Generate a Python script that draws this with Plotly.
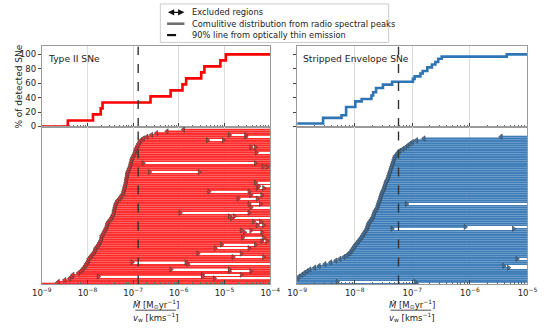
import plotly.graph_objects as go

W, H = 550, 329

# ---------------- data (log10 of Mdot/vw) ----------------
# Top panels: cumulative distribution of radio spectral peaks
ii_cdf_logx = [-8.43, -7.88, -7.71, -7.67, -6.62, -6.18, -5.92, -5.84, -5.51, -5.44, -5.09, -4.97]
ii_cdf_pct = [8.3, 16.7, 25.0, 33.3, 41.7, 50.0, 58.3, 66.7, 75.0, 83.3, 91.7, 100.0]
ii_cdf_start_pct = 0.0

se_cdf_logx = [-8.55, -8.23, -8.15, -7.99, -7.88, -7.71, -7.68, -7.63, -7.51, -7.35,
               -6.99, -6.96, -6.86, -6.82, -6.74, -6.66, -6.60, -6.55, -6.49, -5.36]
se_cdf_pct = [11.9, 15.5, 27.0, 34.7, 38.0, 43.0, 47.5, 53.4, 58.0, 62.0,
              66.0, 69.4, 73.5, 77.0, 82.0, 86.0, 89.5, 94.0, 96.8, 100.0]
se_cdf_start_pct = 4.1

# 90% lines from optically thin emission
ii_p90_logx = -6.89
se_p90_logx = -7.24

# Bottom panels: lower end of the excluded region for each SN (row 0 = bottom)
ii_lower_logx = [
    -9.30, -8.64, -8.50, -8.39, -8.34, -8.32, -8.20, -8.15, -8.11, -8.08,
    -8.05, -8.03, -8.00, -7.98, -7.97, -7.94, -7.91, -7.88, -7.85, -7.83,
    -7.82, -7.79, -7.76, -7.74, -7.72, -7.70, -7.69, -7.69, -7.66, -7.64,
    -7.62, -7.60, -7.58, -7.57, -7.56, -7.54, -7.51, -7.48, -7.46, -7.44,
    -7.42, -7.42, -7.41, -7.40, -7.39, -7.38, -7.36, -7.34, -7.30, -7.27,
    -7.25, -7.22, -7.21, -7.20, -7.19, -7.18, -7.17, -7.16, -7.15, -7.15,
    -7.14, -7.13, -7.13, -7.12, -7.10, -7.09, -7.07, -7.06, -7.05, -7.04,
    -7.03, -7.02, -7.00, -6.98, -6.96, -6.95, -6.94, -6.92, -6.90, -6.88,
    -6.86, -6.83, -6.78, -6.70, -6.60, -6.49, -6.26, -5.90]

se_lower_logx = [
    -9.30, -9.30, -9.10, -9.00, -8.97, -8.92, -8.88, -8.83, -8.78, -8.70,
    -8.62, -8.52, -8.42, -8.33, -8.26, -8.19, -8.14, -8.10, -8.07, -8.05,
    -8.03, -8.01, -7.99, -7.96, -7.94, -7.91, -7.89, -7.87, -7.85, -7.83,
    -7.81, -7.79, -7.78, -7.77, -7.76, -7.74, -7.72, -7.70, -7.68, -7.67,
    -7.66, -7.65, -7.63, -7.61, -7.60, -7.59, -7.58, -7.57, -7.56, -7.55,
    -7.54, -7.53, -7.52, -7.50, -7.49, -7.48, -7.47, -7.46, -7.45, -7.43,
    -7.42, -7.41, -7.40, -7.39, -7.38, -7.37, -7.36, -7.35, -7.34, -7.33,
    -7.32, -7.31, -7.30, -7.27, -7.25, -7.22, -7.17, -7.12, -7.08, -7.04,
    -7.00, -6.93, -6.80, -5.46]

# allowed (white) gaps inside rows: (row, start, end); end None = to the right edge
ii_gaps = [
    (3, -5.22, None), (4, -7.76, -5.48), (5, -5.48, -4.63), (7, -4.89, -4.42),
    (8, -6.17, -4.89), (11, -5.80, None), (12, -7.02, -5.84), (15, -4.81, -4.14),
    (17, -5.58, -4.63), (20, -5.20, -4.46), (22, -5.06, -4.32), (24, -4.18, -4.07),
    (26, -4.60, -4.14), (29, -4.56, -4.18), (30, -4.63, -4.42), (33, -4.28, -4.14),
    (35, -4.36, -4.21), (37, -4.84, None), (38, -4.89, -4.78), (40, -5.97, -4.46),
    (43, -4.42, None), (45, -4.46, -4.21), (48, -4.70, -4.28), (50, -4.42, -4.18),
    (52, -5.34, -4.46), (54, -4.28, -4.14), (55, -4.25, None), (57, -4.32, None),
    (63, -6.64, -5.55), (66, -4.15, -4.07), (68, -6.78, -4.32), (74, -4.30, None),
    (77, -4.42, -4.32), (81, -5.37, -5.02), (83, -4.53, None), (84, -4.89, -4.53)]

se_gaps = [
    (0, -6.93, None), (1, -8.30, -6.95), (9, -5.33, None), (10, -5.41, None),
    (14, -5.18, None), (31, -7.35, -5.24), (32, -6.08, None), (45, -7.10, None)]

ii_xrange = [-9, -4]
se_xrange = [-9, -5]
y_ticks_pct = [0, 20, 40, 60, 80, 100]

# ---------------- styling ----------------
FONT = "DejaVu Sans"
RED = "#ff0000"
RED_BAR = "#ff2a2a"
BLUE = "#2e75b6"
BLUE_BAR = "#3b7bb7"
AX = "#9a9a9a"
GRID = "#dcdcdc"

def px(x):
    return x / W

def py(y):
    return 1 - y / H

LEFT = (33, 270)
RIGHT = (298, 537)
TOP = (47, 128.5)
BOT = (128.5, 288)
TOP_YR = [-0.7, 111]
BOT_YR = [-0.5, 88.5]

fig = go.Figure()


def add_panel(cdf_start, cdf_logx, cdf_pct, p90, lower, gaps, xr, bar_col, line_col,
              stripe_col, xa_top, ya_top, xa_bot, ya_bot):
    xmin, xmax = 10 ** xr[0], 10 ** xr[1]
    # cumulative distribution (step)
    fig.add_trace(go.Scatter(
        x=[xmin] + [10 ** v for v in cdf_logx] + [xmax],
        y=[cdf_start] + cdf_pct + [cdf_pct[-1]],
        mode="lines", line=dict(color=line_col, width=2.6, shape="hv"),
        xaxis=xa_top, yaxis=ya_top, showlegend=False, hoverinfo="skip"))
    fig.add_trace(go.Scatter(
        x=[10 ** p90, 10 ** p90], y=TOP_YR, mode="lines",
        line=dict(color="#333333", width=1.4, dash="dash"),
        xaxis=xa_top, yaxis=ya_top, showlegend=False, hoverinfo="skip"))
    # excluded-region bars
    rows = list(range(len(lower)))
    edge = 10 ** (xr[1] + 0.05)
    fig.add_trace(go.Bar(
        y=rows, base=[10 ** v for v in lower], x=[edge - 10 ** v for v in lower],
        orientation="h", width=1.0,
        marker=dict(color=bar_col, line=dict(color=stripe_col, width=0.3)),
        xaxis=xa_bot, yaxis=ya_bot, showlegend=False, hoverinfo="skip"))
    g_rows = [g[0] for g in gaps]
    g_start = [10 ** g[1] for g in gaps]
    g_end = [edge if g[2] is None else 10 ** g[2] for g in gaps]
    fig.add_trace(go.Bar(
        y=g_rows, base=g_start, x=[e - s for s, e in zip(g_start, g_end)],
        orientation="h", width=0.72, marker=dict(color="white", line=dict(width=0)),
        xaxis=xa_bot, yaxis=ya_bot, showlegend=False, hoverinfo="skip"))
    # arrow markers
    fig.add_trace(go.Scatter(
        x=[10 ** v for v in lower], y=rows, mode="markers",
        marker=dict(symbol="triangle-left", size=4.5, color=bar_col,
                    line=dict(color="#444444", width=0.7)),
        xaxis=xa_bot, yaxis=ya_bot, showlegend=False, hoverinfo="skip"))
    mk_x = g_start + [10 ** g[2] for g in gaps if g[2] is not None]
    mk_y = g_rows + [g[0] for g in gaps if g[2] is not None]
    fig.add_trace(go.Scatter(
        x=mk_x, y=mk_y, mode="markers",
        marker=dict(symbol="triangle-right", size=4.5, color=bar_col,
                    line=dict(color="#444444", width=0.7)),
        xaxis=xa_bot, yaxis=ya_bot, showlegend=False, hoverinfo="skip"))
    fig.add_trace(go.Scatter(
        x=[10 ** p90, 10 ** p90], y=BOT_YR, mode="lines",
        line=dict(color="#333333", width=1.4, dash="dash"),
        xaxis=xa_bot, yaxis=ya_bot, showlegend=False, hoverinfo="skip"))


add_panel(ii_cdf_start_pct, ii_cdf_logx, ii_cdf_pct, ii_p90_logx, ii_lower_logx, ii_gaps,
          ii_xrange, RED_BAR, RED, "rgba(255,150,150,0.35)", "x", "y", "x3", "y3")
add_panel(se_cdf_start_pct, se_cdf_logx, se_cdf_pct, se_p90_logx, se_lower_logx, se_gaps,
          se_xrange, BLUE_BAR, BLUE, "rgba(140,180,215,0.45)", "x2", "y2", "x4", "y4")


def xaxis_cfg(dom, xr, anchor, labels):
    exps = list(range(xr[0], xr[1] + 1))
    minor_vals = [k * 10.0 ** e for e in range(xr[0], xr[1]) for k in range(2, 10)]
    return dict(
        type="log", domain=[px(dom[0]), px(dom[1])], range=xr, anchor=anchor,
        tickvals=[10.0 ** e for e in exps],
        ticktext=["10<sup>\u2212%d</sup>" % (-e) for e in exps],
        showticklabels=labels, ticks="inside", ticklen=4, tickwidth=0.8, tickcolor="#444",
        minor=dict(tickvals=minor_vals, ticks="inside", ticklen=2, tickwidth=0.6,
                   tickcolor="#666", showgrid=False),
        showgrid=True, gridcolor=GRID, gridwidth=0.8,
        showline=True, linecolor=AX, linewidth=1, mirror=True,
        zeroline=False, tickfont=dict(size=8.5, color="#222"))


def yaxis_top(anchor, labels):
    return dict(
        domain=[py(TOP[1]), py(TOP[0])], range=TOP_YR, anchor=anchor,
        tickvals=y_ticks_pct, showticklabels=labels, ticks="outside", ticklen=3,
        tickwidth=0.8, tickcolor="#444", showgrid=False, zeroline=False,
        showline=True, linecolor=AX, linewidth=1, mirror=True,
        tickfont=dict(size=8.5, color="#222"))


def yaxis_bot(anchor):
    return dict(
        domain=[py(BOT[1]), py(BOT[0])], range=BOT_YR, anchor=anchor,
        showticklabels=False, ticks="", showgrid=False, zeroline=False,
        showline=True, linecolor=AX, linewidth=1, mirror=True)


fig.update_layout(
    width=W, height=H, margin=dict(l=0, r=0, t=0, b=0),
    paper_bgcolor="white", plot_bgcolor="white",
    font=dict(family=FONT, size=9, color="#222"),
    barmode="overlay", showlegend=False,
    xaxis=xaxis_cfg(LEFT, ii_xrange, "y", False),
    xaxis2=xaxis_cfg(RIGHT, se_xrange, "y2", False),
    xaxis3=xaxis_cfg(LEFT, ii_xrange, "y3", True),
    xaxis4=xaxis_cfg(RIGHT, se_xrange, "y4", True),
    yaxis=yaxis_top("x", True),
    yaxis2=yaxis_top("x2", False),
    yaxis3=yaxis_bot("x3"),
    yaxis4=yaxis_bot("x4"),
)

ann = []
shapes = []

# panel labels
ann.append(dict(text="Type II SNe", x=px(37), y=py(59.5), xref="paper", yref="paper",
                xanchor="left", yanchor="middle", showarrow=False, font=dict(size=9.2)))
ann.append(dict(text="Stripped Envelope SNe", x=px(302), y=py(59.5), xref="paper", yref="paper",
                xanchor="left", yanchor="middle", showarrow=False, font=dict(size=9.2)))
# y title
ann.append(dict(text="% of detected SNe", x=px(9), y=py(88), xref="paper", yref="paper",
                textangle=-90, xanchor="center", yanchor="middle", showarrow=False,
                font=dict(size=9)))

# x titles (fraction)
for cx, x0, x1 in [(151.5, 130, 172), (417, 395, 437)]:
    ann.append(dict(text="<i>\u1e40</i> [M<sub>\u2299</sub>yr<sup>\u22121</sup>]",
                    x=px(cx), y=py(307.5), xref="paper", yref="paper", showarrow=False,
                    xanchor="center", yanchor="middle", font=dict(size=8.5)))
    ann.append(dict(text="<i>v</i><sub>w</sub> [kms<sup>\u22121</sup>]",
                    x=px(cx), y=py(320.5), xref="paper", yref="paper", showarrow=False,
                    xanchor="center", yanchor="middle", font=dict(size=8.5)))
    shapes.append(dict(type="line", xref="paper", yref="paper", x0=px(x0), x1=px(x1),
                       y0=py(314), y1=py(314), line=dict(color="#222", width=0.8)))

# legend box
shapes.append(dict(type="rect", xref="paper", yref="paper", x0=px(156), x1=px(393),
                   y0=py(43), y1=py(4), line=dict(color="#cccccc", width=1),
                   fillcolor="white", layer="above"))
ann.append(dict(text="", x=px(181), y=py(12.5), xref="paper", yref="paper",
                ax=-18, ay=0, axref="pixel", ayref="pixel", showarrow=True,
                arrowside="end+start", arrowhead=2, arrowsize=0.9, arrowwidth=1.4,
                arrowcolor="#111"))
shapes.append(dict(type="line", xref="paper", yref="paper", x0=px(163), x1=px(181),
                   y0=py(24), y1=py(24), line=dict(color="#707070", width=2.6)))
shapes.append(dict(type="line", xref="paper", yref="paper", x0=px(163), x1=px(181),
                   y0=py(35.5), y1=py(35.5), line=dict(color="#111", width=2.2, dash="dash")))
for yy, t in [(12.5, "Excluded regions"),
              (24, "Comulitive distribution from radio spectral peaks"),
              (35.5, "90% line from optically thin emission")]:
    ann.append(dict(text=t, x=px(187), y=py(yy), xref="paper", yref="paper",
                    xanchor="left", yanchor="middle", showarrow=False,
                    font=dict(size=8.3, color="#222")))

fig.update_layout(annotations=ann, shapes=shapes)
fig.write_html("out.html", config={"displayModeBar": False},
               post_script="document.body.style.margin='0';document.body.style.overflow='hidden';")
